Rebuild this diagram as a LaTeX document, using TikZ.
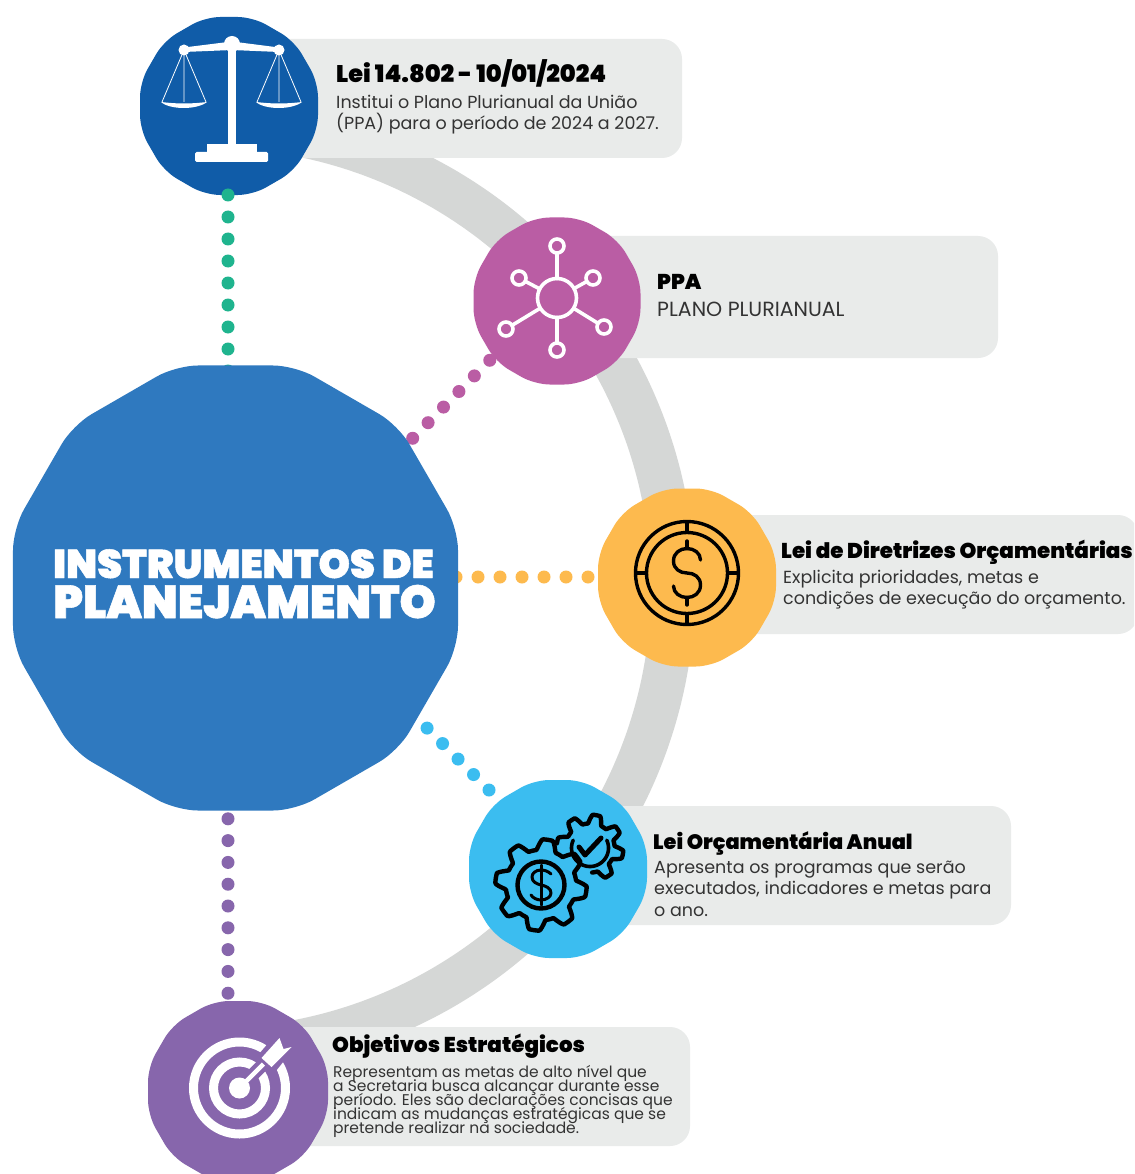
\documentclass[tikz,border=0pt]{standalone}
\usepackage{fontspec}
\usetikzlibrary{shapes.geometric}
\setmainfont{Poppins}
\newfontfamily\bodyf{Poppins}
\newfontfamily\headf{Poppins}[UprightFont=* Black,BoldFont=* Black]
\newfontfamily\titlef{Poppins}[UprightFont=* Black,BoldFont=* Black,FakeBold=1.2]
\newcommand\tightl{\lineskiplimit=-100pt\relax}
\definecolor{cmain}{HTML}{2F79BF}
\definecolor{cblue}{HTML}{105CA8}
\definecolor{cmag}{HTML}{BA5DA4}
\definecolor{corange}{HTML}{FDBA4E}
\definecolor{ccyan}{HTML}{3BBDF0}
\definecolor{cpurple}{HTML}{8766AC}
\definecolor{cgreen}{HTML}{1FB48E}
\definecolor{cbox}{HTML}{E9EBEA}
\definecolor{cring}{HTML}{D5D7D6}
\definecolor{ctext}{HTML}{333333}
\tikzset{
 blob/.style={regular polygon,regular polygon sides=12,inner sep=0pt,outer sep=0pt,minimum size=#1*2.0706pt,rounded corners=15pt,draw=none},
 callout/.style={fill=cbox,rounded corners=20pt,draw=none},
 conn/.style={line width=13pt,line cap=round,dash pattern=on 0pt off #1pt},
 head/.style={anchor=base west,inner sep=0pt,font=\headf\fontsize{21.4}{24}\selectfont,text=black},
 body/.style={anchor=north west,inner sep=0pt,align=left,text=ctext,font=\bodyf\fontsize{17.5}{21.3}\selectfont\tightl},
 wicon/.style={draw=white,line cap=round,line join=round},
 kicon/.style={draw=black,line cap=round,line join=round},
}
\begin{document}
\begin{tikzpicture}[x=1pt,y=-1pt]
\clip (0,0) rectangle (1134,1174);
\fill[white] (0,0) rectangle (1134,1174);
% ring
\draw[cring,line width=44pt] plot[smooth,samples=70,domain=-88:88] ({211+462*cos(\x)},{588+462*sin(\x)});
% callouts
\fill[callout] (240,39) rectangle (682,158);
\fill[callout] (540,236) rectangle (998,358);
\fill[callout] (700,515) rectangle (1138,634);
\fill[callout] (600,806) rectangle (1011,925);
\fill[callout] (280,1027) rectangle (690,1146);
\node[blob=89,fill=cblue] (blue) at (229,106) {};
% dotted connector ends (hidden under the shapes)
\coordinate (g2) at (228,380);
\coordinate (g1) at (228,195);
\coordinate (m1) at (536,313.5);
\coordinate (m2) at (367,484.5);
\coordinate (o1) at (676,577);
\coordinate (o2) at (434,577);
\coordinate (c1) at (520,821);
\coordinate (c2) at (411.5,712.5);
\coordinate (p1) at (228,1015);
\coordinate (p2) at (228,797);
\draw[conn=22,cgreen] (g1) -- (g2);
\draw[conn=21.93,cmag] (m1) -- (m2);
\draw[conn=22,corange] (o1) -- (o2);
\draw[conn=21.9,ccyan] (c1) -- (c2);
\draw[conn=21.8,cpurple] (p1) -- (p2);
% blobs
\node[blob=222.5,rounded corners=22pt,fill=cmain] (main) at (235.5,588) {};
\node[blob=83.5,fill=cmag] (mag) at (557,301) {};
\node[blob=89,fill=corange] (orange) at (687,577.5) {};
\node[blob=89,fill=ccyan] (cyan) at (558,869) {};
\node[blob=90,fill=cpurple] (purple) at (238,1091) {};
% title
\node[anchor=base,inner sep=0pt,text=white,font=\titlef\fontsize{40}{40}\selectfont] (t1) at (243.5,578) {INSTRUMENTOS DE};
\node[anchor=base,inner sep=0pt,text=white,font=\titlef\fontsize{46}{44}\selectfont] (t2) at (244.5,618) {PLANEJAMENTO};
% texts
\node[head,font=\headf\fontsize{24}{24}\selectfont] (h1) at (336,83) {Lei 14.802 - 10/01/2024};
\node[body] (b1) at (336,95) {Institui o Plano Plurianual da União\\(PPA) para o período de 2024 a 2027.};
\node[head] (h2) at (657,289) {PPA};
\node[body,font=\bodyf\fontsize{20.5}{21.3}\selectfont] (b2) at (657,302) {PLANO PLURIANUAL};
\node[head] (h3) at (781,558) {Lei de Diretrizes Orçamentárias};
\node[body] (b3) at (783,570) {Explicita prioridades, metas e\\condições de execução do orçamento.};
\node[head,font=\headf\fontsize{20.8}{24}\selectfont] (h4) at (653,849) {Lei Orçamentária Anual};
\node[body] (b4) at (654,861) {Apresenta os programas que serão\\executados, indicadores e metas para\\o ano.};
\node[head] (h5) at (332,1052) {Objetivos Estratégicos};
\node[body,font=\bodyf\fontsize{15.5}{14}\selectfont\tightl] (b5) at (333,1065) {Representam as metas de alto nível que\\a Secretaria busca alcançar durante esse\\período. Eles são declarações concisas que\\indicam as mudanças estratégicas que se\\pretende realizar na sociedade.};
% icon: scales
\begin{scope}
\fill[white,rounded corners=1.5pt] (195,152) rectangle (268,162);
\fill[white] (207,144) rectangle (257,153);
\fill[white] (228,44) rectangle (236,148);
\fill[white] (184,47.5) -- (232,41.5) -- (279,47.5) -- (279,52) -- (232,50) -- (184,52) -- cycle;
\fill[white] (232,44) circle[radius=8];
\fill[white] (184,50) circle[radius=5.5];
\fill[white] (279,50) circle[radius=5.5];
\draw[white,line width=.8pt] (162,102) -- (184,50) -- (206,102) (184,50) -- (184,102);
\draw[white,line width=.8pt] (257,102) -- (279,50) -- (301,102) (279,50) -- (279,102);
\fill[white] (161,102) .. controls (170,110) and (197,110) .. (207,102) .. controls (190,104) and (178,104) .. (161,102) -- cycle;
\fill[white] (256,102) .. controls (265,110) and (292,110) .. (302,102) .. controls (285,104) and (273,104) .. (256,102) -- cycle;
\end{scope}
% icon: network
\begin{scope}[wicon,line width=3.6pt]
\draw (557,298) circle[radius=19.5];
\foreach \px/\py in {557/246,519/278,593/278,506/329,604/327,557/350}{
 \draw (\px,\py) circle[radius=7];
 \path (557,298) coordinate (cc) (\px,\py) coordinate (ss);
 \draw[shorten <=19.5pt,shorten >=7pt] (cc) -- (ss);
}
\end{scope}
% icon: coin
\begin{scope}[kicon,line width=3.4pt,shift={(687,573)}]
\draw (0,0) circle[radius=51.5];
\draw (0,0) circle[radius=40.5];
\draw (0,-51) -- (0,-41) (0,51) -- (0,41) (-51,0) -- (-41,0) (51,0) -- (41,0);
\draw (13.5,-13) .. controls (13.5,-20) and (7,-24.5) .. (0,-24.5) .. controls (-7,-24.5) and (-13.5,-20) .. (-13.5,-12) .. controls (-13.5,-4) and (-7,0) .. (0,0) .. controls (7,0) and (13.5,4) .. (13.5,12) .. controls (13.5,20) and (7,24.5) .. (0,24.5) .. controls (-7,24.5) and (-13.5,20) .. (-13.5,13);
\draw (0,-32) -- (0,-24.5) (0,24.5) -- (0,32);
\end{scope}
% icon: gears
\begin{scope}[kicon,line width=4.4pt]
\draw plot[samples=200,domain=0:360] ({541+(40.5+5.2*max(-1,min(1,1.7*sin(8*\x+22))))*cos(\x)},{885+(40.5+5.2*max(-1,min(1,1.7*sin(8*\x+22))))*sin(\x)}) -- cycle;
\draw (541,885) circle[radius=23.5];
\draw plot[samples=160,domain=188:445] ({590+(29+4.4*max(-1,min(1,1.7*sin(8*\x))))*cos(\x)},{848+(29+4.4*max(-1,min(1,1.7*sin(8*\x))))*sin(\x)});
\draw[line width=3.6pt] plot[samples=60,domain=-25:205] ({590+18.5*cos(\x)},{848+18.5*sin(\x)});
\draw[line width=5pt] (579,847) -- (585,855) -- (601,838);
\draw[line width=3pt] (551,874) .. controls (548,871) and (544,870) .. (541,870) .. controls (536,870) and (532,873) .. (532,877) .. controls (532,882) and (537,884) .. (541,885) .. controls (546,886) and (551,888) .. (551,893) .. controls (551,897) and (546,900) .. (541,900) .. controls (537,900) and (533,898) .. (531,895);
\draw[line width=3pt] (541,865) -- (541,905);
\end{scope}
% icon: target
\begin{scope}[shift={(1.5,0)}]
\draw[white,line width=9pt] (238,1088) circle[radius=46];
\draw[white,line width=9pt] (238,1088) circle[radius=26];
\fill[white] (238,1088) circle[radius=10.5];
\draw[cpurple,line width=13pt] (246,1080) -- (270,1056);
\fill[cpurple] (254,1058) -- (278,1030) -- (296,1044) -- (272,1074) -- cycle;
\draw[white,line width=4.5pt] (238,1088) -- (262,1064);
\fill[white] (260,1058) -- (278,1038) -- (282,1049) -- (290,1047) -- (270,1067) -- cycle;
\end{scope}
\end{tikzpicture}
\end{document}
